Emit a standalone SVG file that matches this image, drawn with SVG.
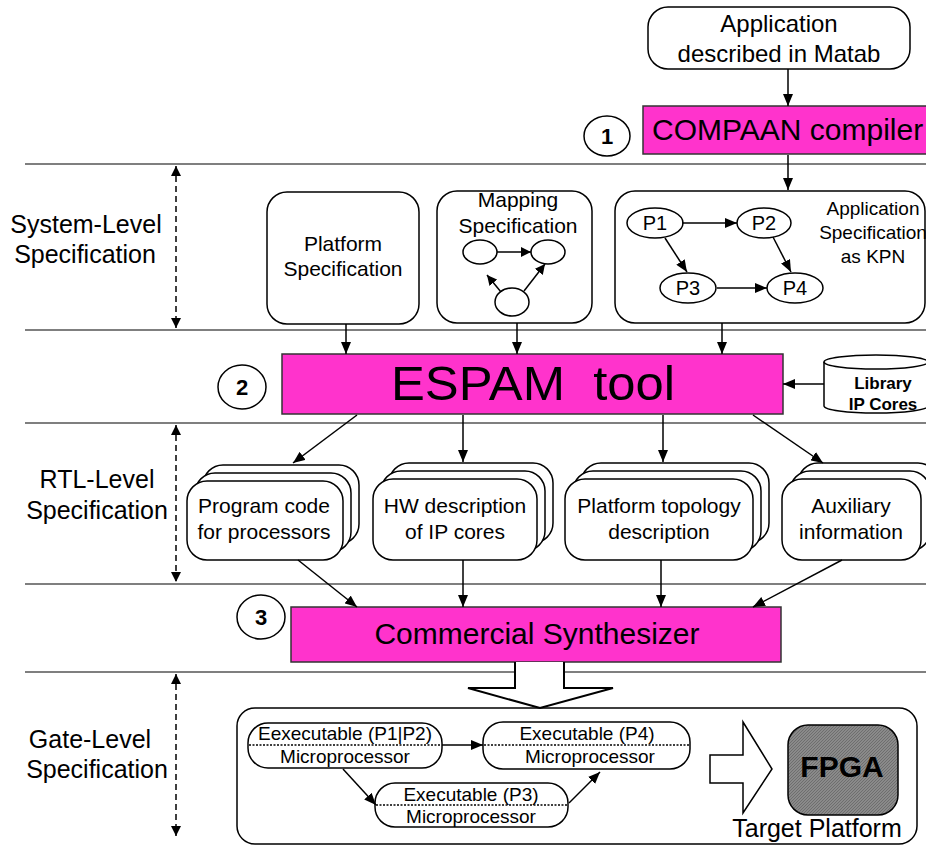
<svg xmlns="http://www.w3.org/2000/svg" width="926" height="845" viewBox="0 0 926 845">
<style>
text{font-family:"Liberation Sans",Arial,sans-serif;fill:#000}
.c{text-anchor:middle}
.box{fill:#fff;stroke:#000;stroke-width:1.5}
.mag{fill:#ff33cc;stroke:#333;stroke-width:1.5}
.sep{stroke:#555;stroke-width:1.5}
.ln{stroke:#000;stroke-width:1.5;fill:none}
.dash{stroke:#000;stroke-width:1.5;stroke-dasharray:6,4;fill:none}
.dot{stroke:#000;stroke-width:1.5;stroke-dasharray:2,1.5}
.lbl{font-size:25px}
</style>
<defs>
<marker id="ah" viewBox="0 0 12 10" refX="12" refY="5" markerWidth="12" markerHeight="10" markerUnits="userSpaceOnUse" orient="auto-start-reverse"><path d="M0,0 L12,5 L0,10 z" fill="#000"/></marker>
<marker id="ahs" viewBox="0 0 10 10" refX="10" refY="5" markerWidth="10" markerHeight="10" markerUnits="userSpaceOnUse" orient="auto-start-reverse"><path d="M0,0 L10,5 L0,10 z" fill="#000"/></marker>
<pattern id="hatch" width="3" height="3" patternUnits="userSpaceOnUse"><rect width="3" height="3" fill="#8a8a8a"/><path d="M0,3 L3,0" stroke="#6e6e6e" stroke-width="1"/></pattern>
</defs>

<g id="separators">
<line class="sep" x1="25" y1="164" x2="926" y2="164"/>
<line class="sep" x1="25" y1="330" x2="926" y2="330"/>
<line class="sep" x1="25" y1="423" x2="926" y2="423"/>
<line class="sep" x1="25" y1="584" x2="926" y2="584"/>
<line class="sep" x1="25" y1="672" x2="926" y2="672"/>
</g>

<g id="level-labels">
<text class="c lbl" x="86" y="233">System-Level</text>
<text class="c lbl" x="85" y="263">Specification</text>
<text class="c lbl" x="97" y="488">RTL-Level</text>
<text class="c lbl" x="97" y="519">Specification</text>
<text class="c lbl" x="90" y="748">Gate-Level</text>
<text class="c lbl" x="97" y="778">Specification</text>
<line class="dash" x1="176" y1="166" x2="176" y2="328" marker-start="url(#ahs)" marker-end="url(#ahs)"/>
<line class="dash" x1="176" y1="425" x2="176" y2="582" marker-start="url(#ahs)" marker-end="url(#ahs)"/>
<line class="dash" x1="176" y1="674" x2="176" y2="836" marker-start="url(#ahs)" marker-end="url(#ahs)"/>
</g>

<g id="app-matlab">
<rect class="box" x="648" y="7" width="262" height="62" rx="20"/>
<text class="c" x="779" y="32" font-size="24">Application</text>
<text class="c" x="779" y="62" font-size="24">described in Matab</text>
</g>

<g id="step1">
<ellipse class="box" cx="607" cy="136" rx="23" ry="20"/>
<text class="c" x="607" y="144" font-size="22" font-weight="bold">1</text>
</g>

<g id="compaan">
<rect class="mag" x="643" y="106" width="290" height="48"/>
<text x="652" y="140" font-size="30">COMPAAN compiler</text>
</g>

<g id="platform-spec">
<rect class="box" x="267" y="192" width="152" height="132" rx="20"/>
<text class="c" x="343" y="251" font-size="21">Platform</text>
<text class="c" x="343" y="276" font-size="21">Specification</text>
</g>

<g id="mapping-spec">
<rect class="box" x="437" y="191" width="155" height="132" rx="20"/>
<text class="c" x="518" y="207" font-size="21">Mapping</text>
<text class="c" x="518" y="233" font-size="21">Specification</text>
<ellipse class="box" cx="480" cy="252" rx="17" ry="12"/>
<ellipse class="box" cx="548" cy="252" rx="17" ry="12"/>
<ellipse class="box" cx="512" cy="302" rx="17" ry="14"/>
</g>

<g id="app-spec">
<rect class="box" x="615" y="191" width="310" height="132" rx="20"/>
<text class="c" x="873" y="215" font-size="19">Application</text>
<text class="c" x="873" y="239" font-size="19">Specification</text>
<text class="c" x="873" y="263" font-size="19">as KPN</text>
<ellipse class="box" cx="655" cy="223" rx="28" ry="15"/>
<text class="c" x="655" y="230" font-size="20">P1</text>
<ellipse class="box" cx="764" cy="223" rx="27" ry="15"/>
<text class="c" x="764" y="230" font-size="20">P2</text>
<ellipse class="box" cx="688" cy="288" rx="28" ry="15"/>
<text class="c" x="688" y="295" font-size="20">P3</text>
<ellipse class="box" cx="795" cy="288" rx="28" ry="15"/>
<text class="c" x="795" y="295" font-size="20">P4</text>
</g>

<g id="step2">
<ellipse class="box" cx="242" cy="387" rx="24" ry="22"/>
<text class="c" x="242" y="395" font-size="22" font-weight="bold">2</text>
</g>

<g id="espam">
<rect class="mag" x="282" y="354" width="501" height="60"/>
<text x="391" y="400" font-size="49" textLength="284" lengthAdjust="spacingAndGlyphs" xml:space="preserve">ESPAM  tool</text>
</g>

<g id="library">
<path d="M824,362 L824,406 A52,7 0 0 0 928,406 L928,362" class="box"/>
<ellipse class="box" cx="876" cy="362" rx="52" ry="7"/>
<text class="c" x="883" y="389" font-size="17" font-weight="bold">Library</text>
<text class="c" x="883" y="410" font-size="17" font-weight="bold">IP Cores</text>
</g>

<g id="program-code">
<rect class="box" x="203" y="465" width="156" height="79" rx="20"/>
<rect class="box" x="195" y="473" width="156" height="79" rx="20"/>
<rect class="box" x="187" y="481" width="156" height="79" rx="20"/>
<text class="c" x="264" y="513" font-size="21">Program code</text>
<text class="c" x="264" y="539" font-size="21">for processors</text>
</g>

<g id="hw-description">
<rect class="box" x="389" y="463" width="164" height="80" rx="20"/>
<rect class="box" x="381" y="471" width="164" height="80" rx="20"/>
<rect class="box" x="373" y="479" width="164" height="81" rx="20"/>
<text class="c" x="455" y="513" font-size="21">HW description</text>
<text class="c" x="455" y="539" font-size="21">of IP cores</text>
</g>

<g id="platform-topology">
<rect class="box" x="581" y="463" width="188" height="80" rx="20"/>
<rect class="box" x="573" y="471" width="188" height="80" rx="20"/>
<rect class="box" x="565" y="479" width="188" height="81" rx="20"/>
<text class="c" x="659" y="513" font-size="21">Platform topology</text>
<text class="c" x="659" y="539" font-size="21">description</text>
</g>

<g id="auxiliary">
<rect class="box" x="798" y="463" width="140" height="80" rx="20"/>
<rect class="box" x="790" y="471" width="140" height="80" rx="20"/>
<rect class="box" x="782" y="479" width="139" height="81" rx="20"/>
<text class="c" x="851" y="513" font-size="21">Auxiliary</text>
<text class="c" x="851" y="539" font-size="21">information</text>
</g>

<g id="step3">
<ellipse class="box" cx="261" cy="617" rx="24" ry="22"/>
<text class="c" x="261" y="625" font-size="22" font-weight="bold">3</text>
</g>

<g id="synthesizer">
<rect class="mag" x="291" y="607" width="490" height="55"/>
<text class="c" x="537" y="644" font-size="30">Commercial Synthesizer</text>
</g>

<g id="target-platform">
<rect class="box" x="237" y="708" width="680" height="136" rx="18"/>
<path d="M710,755 L743,755 L743,722 L772,769 L743,813 L743,783 L710,783 z" fill="#fff" stroke="#000" stroke-width="1.5"/>
<rect x="788" y="725" width="110" height="90" rx="20" fill="url(#hatch)" stroke="#000" stroke-width="1.5"/>
<text class="c" x="842" y="777" font-size="30" font-weight="bold">FPGA</text>
<text class="c" x="817" y="837" font-size="25">Target Platform</text>
</g>

<g id="exec-p1p2">
<rect class="box" x="248" y="723" width="194" height="45" rx="20"/>
<line class="dot" x1="249" y1="745" x2="441" y2="745"/>
<text class="c" x="345" y="740" font-size="19">Eexecutable (P1|P2)</text>
<text class="c" x="345" y="763" font-size="19">Microprocessor</text>
</g>

<g id="exec-p4">
<rect class="box" x="483" y="722" width="207" height="47" rx="20"/>
<line class="dot" x1="484" y1="745" x2="689" y2="745"/>
<text class="c" x="587" y="740" font-size="19">Executable (P4)</text>
<text class="c" x="590" y="763" font-size="19">Microprocessor</text>
</g>

<g id="exec-p3">
<rect class="box" x="375" y="783" width="193" height="44" rx="20"/>
<line class="dot" x1="376" y1="805" x2="567" y2="805"/>
<text class="c" x="471" y="801" font-size="19">Executable (P3)</text>
<text class="c" x="471" y="823" font-size="19">Microprocessor</text>
</g>

<g id="connectors">
<line class="ln" x1="788" y1="69" x2="788" y2="106" marker-end="url(#ah)"/>
<line class="ln" x1="788" y1="155" x2="788" y2="190" marker-end="url(#ah)"/>
<line class="ln" x1="346" y1="324" x2="346" y2="354" marker-end="url(#ah)"/>
<line class="ln" x1="517" y1="323" x2="517" y2="354" marker-end="url(#ah)"/>
<line class="ln" x1="722" y1="323" x2="722" y2="354" marker-end="url(#ah)"/>
<line class="ln" x1="824" y1="384" x2="783" y2="384" marker-end="url(#ah)"/>
<line class="ln" x1="357" y1="415" x2="293" y2="463" marker-end="url(#ah)"/>
<line class="ln" x1="463" y1="415" x2="463" y2="462" marker-end="url(#ah)"/>
<line class="ln" x1="663" y1="415" x2="663" y2="462" marker-end="url(#ah)"/>
<line class="ln" x1="753" y1="415" x2="823" y2="463" marker-end="url(#ah)"/>
<line class="ln" x1="298" y1="560" x2="357" y2="607" marker-end="url(#ah)"/>
<line class="ln" x1="463" y1="560" x2="463" y2="607" marker-end="url(#ah)"/>
<line class="ln" x1="661" y1="560" x2="661" y2="607" marker-end="url(#ah)"/>
<line class="ln" x1="842" y1="560" x2="753" y2="607" marker-end="url(#ah)"/>
<path d="M515,662 L515,688 L468,688 L540,708 L613,688 L564,688 L564,662" fill="#fff" stroke="#000" stroke-width="2"/>
<line class="ln" x1="497" y1="252" x2="531" y2="252" marker-end="url(#ahs)"/>
<line class="ln" x1="524" y1="291" x2="545" y2="264" marker-end="url(#ahs)"/>
<line class="ln" x1="501" y1="292" x2="487" y2="275" marker-end="url(#ahs)"/>
<line class="ln" x1="682" y1="223" x2="737" y2="223" marker-end="url(#ah)"/>
<line class="ln" x1="665" y1="238" x2="687" y2="272" marker-end="url(#ah)"/>
<line class="ln" x1="773" y1="237" x2="791" y2="272" marker-end="url(#ah)"/>
<line class="ln" x1="717" y1="288" x2="767" y2="288" marker-end="url(#ah)"/>
<line class="ln" x1="442" y1="745" x2="483" y2="745" marker-end="url(#ah)"/>
<line class="ln" x1="343" y1="769" x2="376" y2="805" marker-end="url(#ah)"/>
<line class="ln" x1="569" y1="803" x2="600" y2="772" marker-end="url(#ah)"/>
</g>
</svg>
